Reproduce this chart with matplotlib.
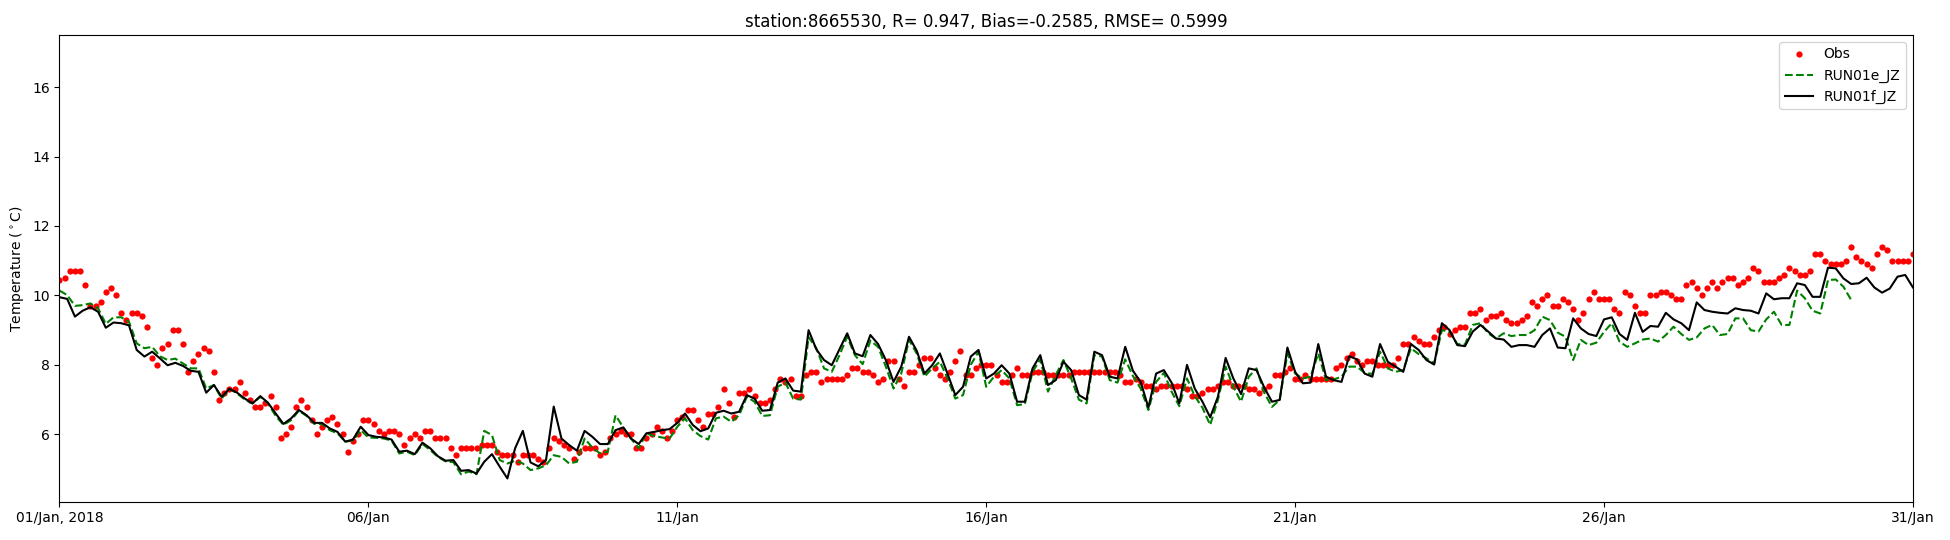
import numpy as np
import pandas as pd
import matplotlib
matplotlib.use("Agg")
import matplotlib.pyplot as plt

title = "station:8665530, R= 0.947, Bias=-0.2585, RMSE= 0.5999"
tick_labels = ["01/Jan, 2018", "06/Jan", "11/Jan", "16/Jan", "21/Jan", "26/Jan", "31/Jan"]

# observations, every 2 hours from 01 Jan 00:00 to 31 Jan 00:00
obs = [
    10.45, 10.5, 10.7, 10.7, 10.7, 10.3, 9.7, 9.7, 9.8, 10.1, 10.2, 10.0,
    9.5, 9.3, 9.5, 9.5, 9.4, 9.1, 8.2, 8.0, 8.5, 8.6, 9.0, 9.0,
    8.6, 7.8, 8.1, 8.3, 8.5, 8.4, 7.8, 7.0, 7.2, 7.3, 7.3, 7.5,
    7.2, 7.0, 6.8, 6.8, 6.9, 7.1, 6.8, 5.9, 6.0, 6.2, 6.8, 7.0,
    6.8, 6.4, 6.0, 6.2, 6.4, 6.5, 6.3, 6.0, 5.5, 5.8, 6.0, 6.4,
    6.4, 6.3, 6.1, 6.0, 6.1, 6.1, 6.0, 5.7, 5.9, 6.0, 5.9, 6.1,
    6.1, 5.9, 5.9, 5.9, 5.6, 5.4, 5.6, 5.6, 5.6, 5.6, 5.7, 5.7,
    5.7, 5.5, 5.4, 5.4, 5.4, 5.2, 5.4, 5.4, 5.4, 5.3, 5.2, 5.6,
    5.9, 5.8, 5.7, 5.6, 5.3, 5.5, 5.6, 5.6, 5.6, 5.4, 5.5, 5.9,
    6.0, 6.1, 6.0, 6.0, 5.6, 5.6, 5.9, 6.0, 6.2, 6.1, 5.9, 6.1,
    6.4, 6.5, 6.7, 6.7, 6.4, 6.2, 6.6, 6.6, 6.8, 7.3, 6.9, 6.5,
    7.2, 7.2, 7.3, 7.1, 6.9, 6.9, 7.0, 7.3, 7.6, 7.5, 7.6, 7.1,
    7.1, 7.7, 7.8, 7.8, 7.5, 7.6, 7.6, 7.6, 7.6, 7.7, 7.9, 7.9,
    7.8, 7.8, 7.7, 7.5, 7.6, 8.1, 8.1, 7.6, 7.4, 7.8, 7.8, 8.0,
    8.2, 8.2, 7.9, 7.7, 7.6, 7.8, 8.1, 8.4, 7.7, 7.7, 7.9, 8.0,
    8.0, 8.0, 7.7, 7.5, 7.5, 7.7, 7.9, 7.7, 7.7, 7.8, 7.8, 7.8,
    7.7, 7.7, 7.7, 7.7, 7.7, 7.8, 7.8, 7.8, 7.8, 7.8, 7.8, 7.8,
    7.8, 7.8, 7.7, 7.5, 7.5, 7.6, 7.5, 7.4, 7.4, 7.3, 7.4, 7.4,
    7.4, 7.4, 7.4, 7.3, 7.1, 7.1, 7.2, 7.3, 7.3, 7.4, 7.5, 7.5,
    7.4, 7.4, 7.4, 7.3, 7.3, 7.2, 7.3, 7.4, 7.7, 7.7, 7.8, 7.9,
    7.6, 7.6, 7.7, 7.6, 7.6, 7.6, 7.6, 7.6, 7.9, 8.0, 8.2, 8.3,
    8.1, 8.0, 8.1, 8.1, 8.0, 8.0, 8.0, 8.0, 8.2, 8.6, 8.6, 8.8,
    8.7, 8.6, 8.6, 8.8, 9.0, 9.1, 8.9, 9.0, 9.1, 9.1, 9.5, 9.5,
    9.6, 9.3, 9.4, 9.4, 9.5, 9.3, 9.2, 9.2, 9.3, 9.4, 9.8, 9.7,
    9.9, 10.0, 9.7, 9.7, 9.9, 9.8, 9.6, 9.3, 9.5, 9.9, 10.1, 9.9,
    9.9, 9.9, 9.6, 9.5, 10.1, 10.0, 9.7, 9.5, 9.5, 10.0, 10.0, 10.1,
    10.1, 10.0, 9.9, 9.9, 10.3, 10.4, 10.2, 10.0, 10.2, 10.4, 10.2, 10.4,
    10.5, 10.5, 10.3, 10.4, 10.5, 10.8, 10.7, 10.4, 10.4, 10.4, 10.5, 10.6,
    10.8, 10.7, 10.6, 10.6, 10.7, 11.2, 11.2, 11.0, 10.9, 10.9, 10.9, 11.0,
    11.4, 11.1, 11.0, 10.9, 10.8, 11.2, 11.4, 11.3, 11.0, 11.0, 11.0, 11.0,
    11.2,
]

# model runs, every 3 hours
run01e = [
    10.14, 10.01, 9.7, 9.72, 9.77, 9.63, 9.18, 9.37,
    9.37, 9.24, 8.62, 8.48, 8.52, 8.25, 8.14, 8.18,
    8.04, 7.9, 7.9, 7.32, 7.42, 7.03, 7.31, 7.18,
    7.0, 6.89, 7.08, 6.89, 6.53, 6.27, 6.41, 6.68,
    6.53, 6.3, 6.3, 6.12, 6.03, 5.79, 5.82, 6.12,
    5.91, 5.9, 5.88, 5.82, 5.45, 5.5, 5.4, 5.72,
    5.55, 5.35, 5.22, 5.2, 4.85, 4.93, 4.85, 6.1,
    5.98, 5.26, 5.16, 5.24, 5.16, 4.97, 5.02, 5.11,
    5.4, 5.35, 5.16, 5.21, 5.88, 5.62, 5.45, 5.5,
    6.55, 6.2, 5.88, 5.6, 6.03, 5.95, 5.91, 5.88,
    6.22, 6.46, 6.12, 5.95, 5.85, 6.46, 6.51, 6.36,
    6.55, 7.08, 6.94, 6.53, 6.55, 7.37, 7.49, 7.03,
    7.0, 8.8, 8.48, 7.9, 7.8, 8.28, 8.81, 8.28,
    8.02, 8.7, 8.52, 7.95, 7.32, 7.75, 8.72, 8.33,
    7.66, 7.9, 8.09, 7.61, 7.03, 7.13, 8.0, 8.38,
    7.37, 7.66, 7.85, 7.61, 6.84, 6.87, 7.8, 8.16,
    7.23, 7.71, 8.14, 7.61, 7.0, 6.89, 8.28, 8.24,
    7.56, 7.49, 8.16, 7.68, 7.32, 6.7, 7.51, 7.77,
    7.23, 6.81, 7.61, 7.1, 6.77, 6.27, 6.99, 7.95,
    7.37, 6.94, 7.66, 7.9, 7.2, 6.79, 6.99, 8.33,
    7.75, 7.61, 7.66, 8.33, 7.56, 7.58, 7.66, 7.95,
    7.95, 7.77, 7.74, 8.38, 7.9, 7.8, 7.85, 8.48,
    8.31, 8.19, 8.04, 9.0, 8.96, 8.6, 8.59, 9.15,
    9.2, 8.91, 8.76, 8.91, 8.83, 8.86, 8.86, 9.0,
    9.39, 9.29, 8.93, 8.81, 8.14, 8.72, 8.57, 8.64,
    8.95, 9.2, 8.67, 8.52, 8.62, 8.73, 8.76, 8.67,
    8.86, 9.1, 8.89, 8.72, 8.79, 9.05, 9.15, 8.86,
    8.89, 9.34, 9.34, 9.0, 8.96, 9.31, 9.53, 9.15,
    9.15, 10.14, 9.92, 9.56, 9.48, 10.44, 10.46, 10.25,
    9.87, np.nan, np.nan, np.nan, np.nan, np.nan, np.nan, np.nan,
    np.nan,
]

run01f = [
    9.95, 9.9, 9.39, 9.56, 9.66, 9.53, 9.07, 9.22,
    9.2, 9.14, 8.43, 8.24, 8.38, 8.19, 7.99, 8.06,
    7.97, 7.83, 7.8, 7.2, 7.42, 7.08, 7.31, 7.2,
    7.03, 6.89, 7.1, 6.91, 6.6, 6.3, 6.46, 6.7,
    6.55, 6.33, 6.33, 6.17, 6.07, 5.79, 5.85, 6.22,
    5.98, 5.93, 5.91, 5.85, 5.5, 5.53, 5.43, 5.76,
    5.6, 5.37, 5.24, 5.26, 4.95, 4.97, 4.87, 5.21,
    5.43, 5.07, 4.73, 5.6, 6.1, 5.19, 5.08, 5.26,
    6.8, 5.88, 5.69, 5.53, 6.1, 5.93, 5.72, 5.72,
    6.12, 6.2, 5.88, 5.72, 6.03, 6.07, 6.12, 6.15,
    6.33, 6.6, 6.27, 6.09, 6.17, 6.62, 6.68, 6.6,
    6.65, 7.13, 7.03, 6.68, 6.7, 7.49, 7.61, 7.26,
    7.23, 9.0, 8.45, 8.14, 7.99, 8.45, 8.91, 8.33,
    8.25, 8.86, 8.6, 8.14, 7.51, 7.95, 8.81, 8.41,
    7.75, 7.99, 8.33, 7.74, 7.13, 7.37, 8.24, 8.43,
    7.61, 7.75, 7.99, 7.75, 6.94, 6.94, 7.9, 8.28,
    7.42, 7.56, 8.09, 7.85, 7.13, 7.0, 8.38, 8.28,
    7.66, 7.61, 8.52, 7.83, 7.51, 6.77, 7.75, 7.85,
    7.49, 6.89, 8.0, 7.32, 6.94, 6.49, 7.08, 8.2,
    7.61, 7.16, 7.9, 7.85, 7.35, 6.94, 6.99, 8.5,
    7.8, 7.47, 7.49, 8.6, 7.66, 7.56, 7.51, 8.25,
    8.16, 7.75, 7.66, 8.6, 8.09, 7.95, 7.8, 8.6,
    8.43, 8.14, 8.01, 9.2, 9.0, 8.57, 8.54, 8.96,
    9.15, 8.96, 8.76, 8.73, 8.52, 8.57, 8.57, 8.52,
    8.86, 9.05, 8.5, 8.48, 9.34, 9.05, 8.89, 8.83,
    9.31, 9.37, 8.89, 8.72, 9.5, 8.95, 9.12, 9.1,
    9.5, 9.31, 9.2, 9.0, 9.8, 9.58, 9.53, 9.5,
    9.48, 9.63, 9.58, 9.56, 9.48, 10.06, 9.89, 9.92,
    9.92, 10.35, 10.3, 9.96, 9.96, 10.8, 10.78, 10.49,
    10.33, 10.35, 10.51, 10.23, 10.08, 10.2, 10.54, 10.59,
    10.23,
]

t_obs = pd.date_range("2018-01-01", "2018-01-31", freq="2h")
t_mod = pd.date_range("2018-01-01", "2018-01-31", freq="3h")
tick_dates = pd.date_range("2018-01-01", "2018-01-31", freq="5D")

fig = plt.figure(figsize=(19.5, 5.4), dpi=100)
ax = fig.add_axes([0.0305, 0.0709, 0.9505, 0.8643])

ax.plot(t_obs, obs, color="r", marker="o", markersize=4.5, markeredgewidth=0,
        linestyle="none", label="Obs")
ax.plot(t_mod, run01e, "g--", linewidth=1.5, label="RUN01e_JZ")
ax.plot(t_mod, run01f, "k-", linewidth=1.5, label="RUN01f_JZ")

ax.set_xlim(t_mod[0], t_mod[-1])
ax.set_ylim(4.06, 17.5)
ax.set_xticks(tick_dates)
ax.set_xticklabels(tick_labels)
ax.set_yticks([6, 8, 10, 12, 14, 16])
ax.set_ylabel(r"Temperature ($^\circ$C)")
ax.set_title(title)
ax.legend(loc="upper right")

fig.savefig("out.png", dpi=100)
